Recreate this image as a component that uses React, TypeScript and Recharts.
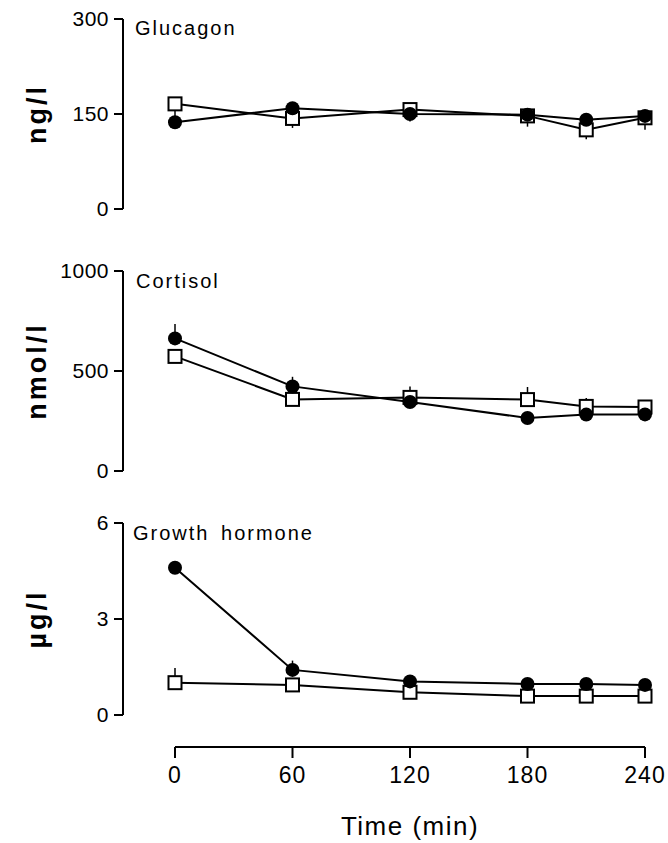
import React from 'react';
import { LineChart, Line, XAxis, YAxis, ErrorBar } from 'recharts';

// sampling times (min)
const times = [0, 60, 120, 180, 210, 240];
const timeTicks = [0, 60, 120, 180, 240];

// glucagon, ng/l
const glucagonFilled = [137, 159, 150, 149, 141, 147];
const glucagonOpen = [166, 143, 157, 147, 125, 144];
const glucagonFilledErr = [[0, 20], [0, 0], [12, 0], [0, 0], [0, 0], [0, 0]];
const glucagonOpenErr = [[0, 0], [15, 0], [0, 0], [17, 0], [15, 0], [19, 0]];
const glucagonTicks = [0, 150, 300];

// cortisol, nmol/l
const cortisolFilled = [663, 423, 345, 265, 282, 283];
const cortisolOpen = [573, 358, 368, 357, 323, 320];
const cortisolFilledErr = [[0, 72], [0, 48], [0, 0], [0, 0], [0, 0], [0, 0]];
const cortisolOpenErr = [[0, 0], [0, 0], [0, 55], [0, 63], [0, 42], [0, 0]];
const cortisolTicks = [0, 500, 1000];

// growth hormone, µg/l
const ghFilled = [4.6, 1.41, 1.05, 0.97, 0.97, 0.94];
const ghOpen = [1.01, 0.94, 0.71, 0.59, 0.59, 0.59];
const ghFilledErr = [[0, 0], [0, 0.29], [0, 0], [0, 0], [0, 0], [0, 0]];
const ghOpenErr = [[0, 0.46], [0, 0], [0, 0], [0, 0], [0, 0], [0, 0]];
const ghTicks = [0, 3, 6];

const FONT = 'Helvetica, Arial, "Liberation Sans", sans-serif';

const buildRows = (filled: number[], open: number[], filledErr: number[][], openErr: number[][]) =>
  times.map((t, i) => ({ t, filled: filled[i], open: open[i], filledErr: filledErr[i], openErr: openErr[i] }));

const SquareDot = (props: any) => {
  const { cx, cy } = props;
  if (cx == null || cy == null) return null;
  return <rect x={cx - 6.5} y={cy - 6.5} width={13} height={13} fill="#fff" stroke="#000" strokeWidth={2} />;
};

const unitLabel = (unit: string) => (props: any) => {
  const vb = props.viewBox;
  if (!vb) return null;
  const cy = vb.y + vb.height / 2;
  return (
    <text
      x={37}
      y={cy}
      transform={`rotate(-90, 37, ${cy})`}
      textAnchor="middle"
      dominantBaseline="central"
      fontFamily={FONT}
      fontWeight="bold"
      fontSize={27}
      letterSpacing={3}
      fill="#000"
    >
      {unit}
    </text>
  );
};

interface PanelProps {
  top: number;
  height: number;
  marginTop: number;
  marginBottom: number;
  rows: any[];
  domain: number[];
  ticks: number[];
  unit: string;
  title: string;
  titleTop: number;
  titleLeft: number;
}

const Panel: React.FC<PanelProps> = ({ top, height, marginTop, marginBottom, rows, domain, ticks, unit, title, titleTop, titleLeft }) => (
  <div style={{ position: 'absolute', left: 0, top, width: 668, height }}>
    <LineChart width={668} height={height} data={rows} margin={{ top: marginTop, right: 23, bottom: marginBottom, left: 0 }}>
      <XAxis type="number" dataKey="t" domain={[0, 240]} hide padding={{ left: 52, right: 0 }} />
      <YAxis
        type="number"
        domain={domain}
        ticks={ticks}
        interval={0}
        width={123}
        axisLine={{ stroke: '#000', strokeWidth: 2 }}
        tickLine={{ stroke: '#000', strokeWidth: 2 }}
        tickSize={9}
        tickMargin={5}
        tick={{ fill: '#000', fontSize: 21, fontFamily: FONT, letterSpacing: 0.5 }}
        label={{ value: unit, content: unitLabel(unit) }}
      />
      <Line dataKey="open" stroke="#000" strokeWidth={2} dot={<SquareDot />} activeDot={false} isAnimationActive={false}>
        <ErrorBar dataKey="openErr" direction="y" width={0} stroke="#000" strokeWidth={1.5} />
      </Line>
      <Line dataKey="filled" stroke="#000" strokeWidth={2} dot={{ r: 7, fill: '#000', stroke: '#000', strokeWidth: 0 }} activeDot={false} isAnimationActive={false}>
        <ErrorBar dataKey="filledErr" direction="y" width={0} stroke="#000" strokeWidth={1.5} />
      </Line>
    </LineChart>
    <div
      style={{
        position: 'absolute',
        left: titleLeft,
        top: titleTop,
        fontFamily: FONT,
        fontSize: 20,
        lineHeight: '20px',
        letterSpacing: 2,
        wordSpacing: 4,
        color: '#000',
        whiteSpace: 'nowrap',
      }}
    >
      {title}
    </div>
  </div>
);

const App: React.FC = () => {
  const axisRows = times.map((t) => ({ t }));
  return (
    <div style={{ position: 'absolute', left: 0, top: 0, width: 668, height: 843, background: '#fff', overflow: 'hidden' }}>
      <Panel
        top={0}
        height={235}
        marginTop={19}
        marginBottom={26}
        rows={buildRows(glucagonFilled, glucagonOpen, glucagonFilledErr, glucagonOpenErr)}
        domain={[0, 300]}
        ticks={glucagonTicks}
        unit="ng/l"
        title="Glucagon"
        titleTop={18}
        titleLeft={135}
      />
      <Panel
        top={250}
        height={245}
        marginTop={21}
        marginBottom={24}
        rows={buildRows(cortisolFilled, cortisolOpen, cortisolFilledErr, cortisolOpenErr)}
        domain={[0, 1000]}
        ticks={cortisolTicks}
        unit="nmol/l"
        title="Cortisol"
        titleTop={21}
        titleLeft={136}
      />
      <Panel
        top={500}
        height={240}
        marginTop={23}
        marginBottom={25}
        rows={buildRows(ghFilled, ghOpen, ghFilledErr, ghOpenErr)}
        domain={[0, 6]}
        ticks={ghTicks}
        unit="µg/l"
        title="Growth hormone"
        titleTop={23}
        titleLeft={133}
      />
      <div style={{ position: 'absolute', left: 0, top: 700, width: 668, height: 143 }}>
        <LineChart width={668} height={143} data={axisRows} margin={{ top: 46, right: 23, bottom: 0, left: 175 }}>
          <YAxis hide domain={[0, 1]} />
          <XAxis
            type="number"
            dataKey="t"
            domain={[0, 240]}
            ticks={timeTicks}
            interval={0}
            height={96}
            axisLine={{ stroke: '#000', strokeWidth: 2 }}
            tickLine={{ stroke: '#000', strokeWidth: 2 }}
            tickSize={11}
            tickMargin={9}
            tick={{ fill: '#000', fontSize: 23, fontFamily: FONT, letterSpacing: 1 }}
            label={{
              value: 'Time (min)',
              position: 'insideBottom',
              offset: 8,
              style: { fill: '#000', fontSize: 26, fontFamily: FONT, letterSpacing: 1.5 },
            }}
          />
        </LineChart>
      </div>
    </div>
  );
};

export default App;
